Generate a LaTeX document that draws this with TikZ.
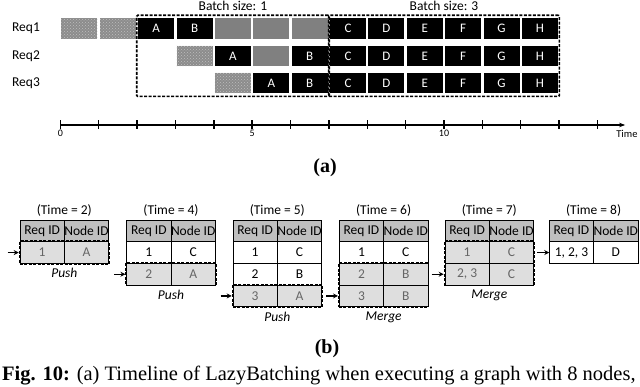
\documentclass[tikz,border=0pt]{standalone}
\usepackage{fontspec}
\setmainfont{Liberation Serif}
\setsansfont{Carlito}
\usetikzlibrary{positioning,fit,patterns,arrows.meta}

\tikzset{
  slot/.style={minimum width=36pt, minimum height=20.5pt, inner sep=0pt, font=\sffamily\fontsize{13}{15}\selectfont},
  run/.style={slot, fill=black, text=white},
  idle/.style={slot, fill=black!50},
  queued/.style={slot, fill=black!45, postaction={pattern=crosshatch dots, pattern color=black!25}},
  batchbox/.style={draw, line width=1.6pt, dash pattern=on 3pt off 1.5pt, inner xsep=1.3pt, inner ysep=3pt, rounded corners=1pt},
  tcell/.style={draw, line width=0.8pt, outer sep=0pt, minimum width=44.3pt, minimum height=21.7pt, inner sep=0pt, font=\sffamily\fontsize{13.5}{15}\selectfont},
  hdr/.style={tcell, fill=black!25},
  hl/.style={tcell, fill=black!13, text=black!60},
  pickbox/.style={draw, line width=1.6pt, dash pattern=on 3pt off 1.5pt, inner sep=0.5pt},
  feed/.style={-{Stealth[length=5pt,width=5pt]}, line width=1.4pt},
  lbl/.style={font=\sffamily\fontsize{13.5}{15}\selectfont},
}

\begin{document}
\begin{tikzpicture}[x=1pt, y=-1pt]
\useasboundingbox (0,0) rectangle (640,387);

% (a) timeline
\begin{scope}[xshift=60.3pt, x=38.37pt]
\foreach \r/\y in {1/28.7, 2/56, 3/83}
  \node[lbl, anchor=east] (req\r) at (-0.44,\y) {Req\r};
\foreach \c/\s/\l in {0/queued/{}, 1/queued/{}, 2/run/A, 3/run/B, 4/idle/{}, 5/idle/{}, 6/idle/{}}
  \node[\s] (q1-\c) at (\c+0.5,28.7) {\l};
\foreach \c/\s/\l in {3/queued/{}, 4/run/A, 5/idle/{}, 6/run/B}
  \node[\s] (q2-\c) at (\c+0.5,56) {\l};
\foreach \c/\s/\l in {4/queued/{}, 5/run/A, 6/run/B}
  \node[\s] (q3-\c) at (\c+0.5,83) {\l};
\foreach \r/\y in {1/28.7, 2/56, 3/83}
  \foreach \c/\l in {7/C, 8/D, 9/E, 10/F, 11/G, 12/H}
    \node[run] (q\r-\c) at (\c+0.5,\y) {\l};

\node[batchbox, fit=(q1-2)(q3-6)] (batch1) {};
\node[batchbox, fit=(q1-7)(q3-12)] (batch3) {};
\node[lbl, above=0pt of batch1] {Batch size: 1};
\node[lbl, above=0pt of batch3] {Batch size: 3};

\draw[-{Stealth[length=6pt]}, line width=1.5pt] (0,125) -- (14.72,125);
\foreach \t in {0,...,14}
  \draw[line width=1.5pt] (\t,120.5) -- (\t,129.5);
\foreach \t in {0,5,10}
  \node[below, inner sep=1pt, font=\sffamily\fontsize{10}{11}\selectfont] at (\t,129) {\t};
\node[anchor=west, font=\sffamily\fontsize{10.5}{12}\selectfont] at (14.4,134) {Time};
\end{scope}

\node[font=\bfseries\fontsize{20}{22}\selectfont] (capa) at (325,168) {(a)};

% (b) queue tables
\foreach \k/\x/\t in {1/20/2, 2/126.7/4, 3/233/5, 4/339.3/6, 5/445/7, 6/549.3/8} {
  \node[hdr, anchor=north west] (t\k-h1) at (\x,220) {Req ID};
  \node[hdr, anchor=west] (t\k-h2) at (t\k-h1.east) {Node ID};
  \node[lbl, above=0pt of t\k-h1.north east] (t\k-title) {(Time = \t)};
}
\foreach \k/\n/\s/\a/\b in {1/1/hl/1/A,
    2/1/tcell/1/C, 2/2/hl/2/A,
    3/1/tcell/1/C, 3/2/tcell/2/B, 3/3/hl/3/A,
    4/1/tcell/1/C, 4/2/hl/2/B, 4/3/hl/3/B,
    5/1/hl/1/C, 5/2/hl/{2, 3}/C,
    6/1/tcell/{1, 2, 3}/D} {
  \node[\s, anchor=north] (t\k-\n-a) at ([yshift={-(\n-1)*21.7pt}]t\k-h1.south) {\a};
  \node[\s, anchor=north] (t\k-\n-b) at ([yshift={-(\n-1)*21.7pt}]t\k-h2.south) {\b};
}

\node[pickbox, fit=(t1-1-a)(t1-1-b)] (pick1) {};
\node[pickbox, fit=(t2-2-a)(t2-2-b)] (pick2) {};
\node[pickbox, fit=(t3-3-a)(t3-3-b)] (pick3) {};
\node[pickbox, fit=(t4-2-a)(t4-3-b)] (pick4) {};
\node[pickbox, fit=(t5-1-a)(t5-2-b)] (pick5) {};
\node[lbl, font=\sffamily\itshape\fontsize{13.5}{15}\selectfont, below=0pt of pick1] {Push};
\node[lbl, font=\sffamily\itshape\fontsize{13.5}{15}\selectfont, below=0pt of pick2] {Push};
\node[lbl, font=\sffamily\itshape\fontsize{13.5}{15}\selectfont, below=0pt of pick3] {Push};
\node[lbl, font=\sffamily\itshape\fontsize{13.5}{15}\selectfont, below=0pt of pick4] {Merge};
\node[lbl, font=\sffamily\itshape\fontsize{13.5}{15}\selectfont, below=0pt of pick5] {Merge};

\coordinate (in1) at ([xshift=-11pt]pick1.west);
\coordinate (in2) at ([xshift=-11pt]pick2.west);
\coordinate (in3) at ([xshift=-11pt]pick3.west);
\coordinate (in4) at ([xshift=-12pt]pick4.west |- t4-3-a);
\coordinate (in5) at ([xshift=-12pt]pick5.west |- t5-2-a);
\coordinate (in6) at ([xshift=-12pt]t6-1-a.west);
\draw[feed] (in1) -- (pick1.west);
\draw[feed] (in2) -- (pick2.west);
\draw[feed] (in3) -- (pick3.west);
\draw[feed] (in4) -- (pick4.west |- t4-3-a);
\draw[feed] (in5) -- (pick5.west |- t5-2-a);
\draw[feed] (in6) -- (t6-1-a.west);

\node[font=\bfseries\fontsize{20}{22}\selectfont] (capb) at (327,349) {(b)};
\node[anchor=base west, inner sep=0pt, font=\fontsize{20.5}{23}\selectfont] (fig) at (2,381)
  {\textbf{Fig. 10:} (a) Timeline of LazyBatching when executing a graph with 8 nodes,};
\end{tikzpicture}
\end{document}
